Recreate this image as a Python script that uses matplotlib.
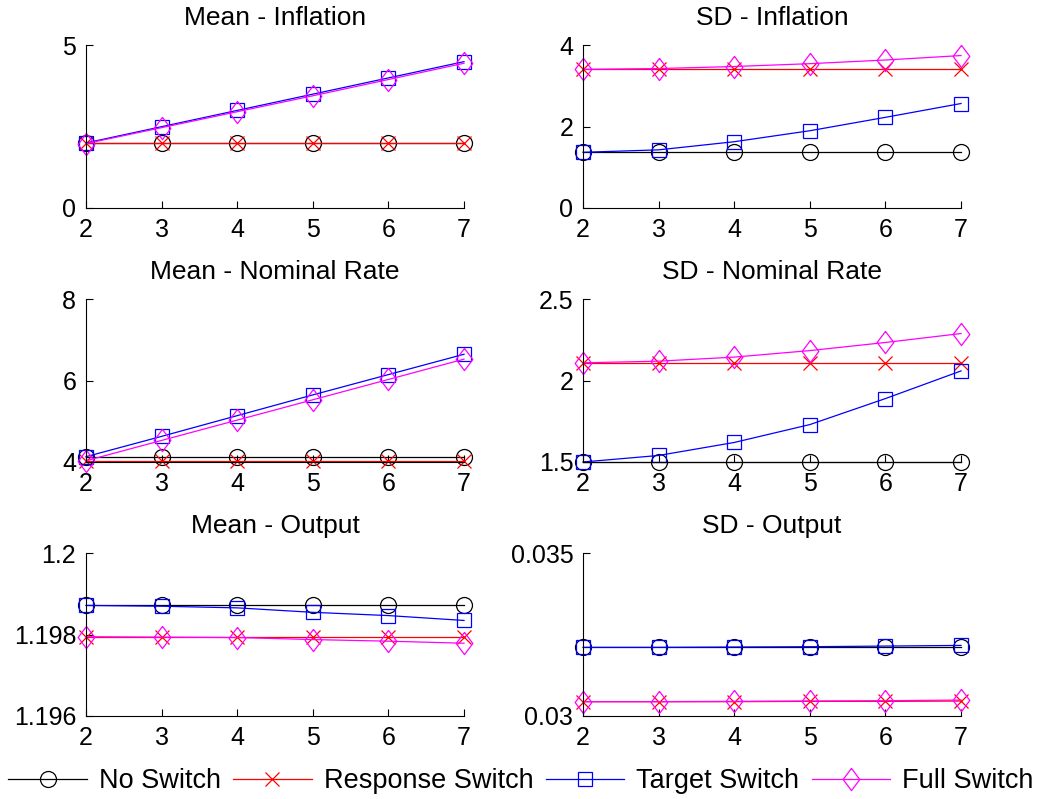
import matplotlib.pyplot as plt

plt.rcParams['font.family'] = ['Liberation Sans', 'DejaVu Sans']

# Horizon (x axis)
horizon = [2, 3, 4, 5, 6, 7]

# Mean - Inflation
mean_infl_no = [2.0, 2.0, 2.0, 2.0, 2.0, 2.0]
mean_infl_resp = [2.0, 2.0, 2.0, 2.0, 2.0, 2.0]
mean_infl_target = [2.0, 2.5, 3.0, 3.5, 4.0, 4.5]
mean_infl_full = [1.98, 2.47, 2.96, 3.45, 3.95, 4.45]

# SD - Inflation
sd_infl_no = [1.37, 1.37, 1.37, 1.37, 1.37, 1.37]
sd_infl_resp = [3.41, 3.41, 3.41, 3.41, 3.41, 3.41]
sd_infl_target = [1.37, 1.43, 1.63, 1.90, 2.23, 2.57]
sd_infl_full = [3.41, 3.43, 3.48, 3.55, 3.64, 3.75]

# Mean - Nominal Rate
mean_rate_no = [4.12, 4.12, 4.12, 4.12, 4.12, 4.12]
mean_rate_resp = [4.02, 4.02, 4.02, 4.02, 4.02, 4.02]
mean_rate_target = [4.13, 4.63, 5.14, 5.65, 6.15, 6.65]
mean_rate_full = [4.03, 4.53, 5.03, 5.53, 6.03, 6.53]

# SD - Nominal Rate
sd_rate_no = [1.50, 1.50, 1.50, 1.50, 1.50, 1.50]
sd_rate_resp = [2.11, 2.11, 2.11, 2.11, 2.11, 2.11]
sd_rate_target = [1.50, 1.54, 1.62, 1.73, 1.89, 2.06]
sd_rate_full = [2.11, 2.12, 2.145, 2.185, 2.235, 2.29]

# Mean - Output
mean_out_no = [1.19872, 1.19872, 1.19872, 1.19872, 1.19872, 1.19872]
mean_out_resp = [1.19795, 1.19795, 1.19795, 1.19795, 1.19795, 1.19795]
mean_out_target = [1.19872, 1.19870, 1.19866, 1.19855, 1.19847, 1.19835]
mean_out_full = [1.19795, 1.19794, 1.19793, 1.19788, 1.19784, 1.19779]

# SD - Output
sd_out_no = [0.03211, 0.03211, 0.03211, 0.03211, 0.03211, 0.03211]
sd_out_resp = [0.03044, 0.03044, 0.03044, 0.03045, 0.03045, 0.03046]
sd_out_target = [0.03211, 0.03211, 0.03212, 0.03213, 0.03215, 0.03217]
sd_out_full = [0.03044, 0.03044, 0.03045, 0.03046, 0.03047, 0.03049]

labels = ['No Switch', 'Response Switch', 'Target Switch', 'Full Switch']
colors = ['black', 'red', 'blue', 'magenta']
# MATLAB style diamond: taller than wide
diamond = [(0, 1), (0.75, 0), (0, -1), (-0.75, 0), (0, 1)]
markers = ['o', 'x', 's', diamond]
msizes = [11.5, 10, 10, 16]

panels = [
    ('Mean - Inflation', [mean_infl_no, mean_infl_resp, mean_infl_target, mean_infl_full],
     (0, 5), [0, 5], ['0', '5']),
    ('SD - Inflation', [sd_infl_no, sd_infl_resp, sd_infl_target, sd_infl_full],
     (0, 4), [0, 2, 4], ['0', '2', '4']),
    ('Mean - Nominal Rate', [mean_rate_no, mean_rate_resp, mean_rate_target, mean_rate_full],
     (4, 8), [4, 6, 8], ['4', '6', '8']),
    ('SD - Nominal Rate', [sd_rate_no, sd_rate_resp, sd_rate_target, sd_rate_full],
     (1.5, 2.5), [1.5, 2, 2.5], ['1.5', '2', '2.5']),
    ('Mean - Output', [mean_out_no, mean_out_resp, mean_out_target, mean_out_full],
     (1.196, 1.2), [1.196, 1.198, 1.2], ['1.196', '1.198', '1.2']),
    ('SD - Output', [sd_out_no, sd_out_resp, sd_out_target, sd_out_full],
     (0.03, 0.035), [0.03, 0.035], ['0.03', '0.035']),
]

fig = plt.figure(figsize=(10.42, 7.99), dpi=100)

lefts = [0.0825, 0.5595]
bottoms = [0.7397, 0.4218, 0.1039]
w, h = 0.3628, 0.2035

handles = []
for i, (title, series, ylim, yticks, yticklabels) in enumerate(panels):
    ax = fig.add_axes([lefts[i % 2], bottoms[i // 2], w, h])
    for k, vals in enumerate(series):
        ln, = ax.plot(horizon, vals, color=colors[k], marker=markers[k], markersize=msizes[k],
                      markerfacecolor='none', markeredgewidth=0.9, linewidth=0.9,
                      label=labels[k], clip_on=False)
        if i == 0:
            handles.append(ln)
    ax.set_xlim(2, 7)
    ax.set_ylim(*ylim)
    ax.set_xticks(horizon)
    ax.set_yticks(yticks)
    ax.set_yticklabels(yticklabels)
    ax.set_title(title, fontsize=19, pad=15)
    ax.spines['top'].set_visible(False)
    ax.spines['right'].set_visible(False)
    ax.tick_params(direction='in', length=5, labelsize=18, pad=7)

fig.legend(handles=handles, labels=labels, loc='center', bbox_to_anchor=(0.5, 0.0225),
           ncol=4, frameon=False, fontsize=19.5, handlelength=2.9, handletextpad=0.45,
           columnspacing=0.45, borderpad=0, borderaxespad=0)

fig.savefig('out.png', dpi=100)
